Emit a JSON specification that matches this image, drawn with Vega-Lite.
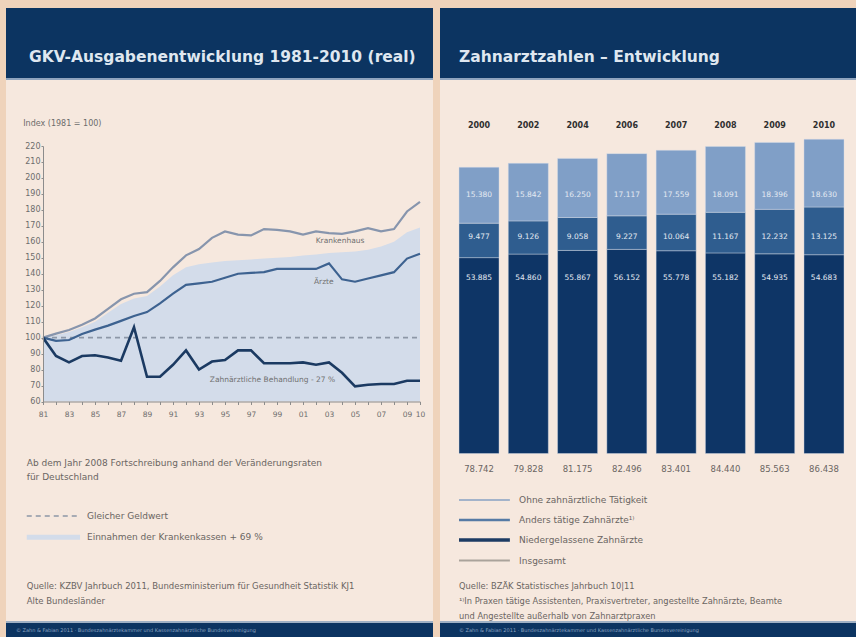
{
  "$schema": "https://vega.github.io/schema/vega-lite/v6.json",
  "background": "#efd3bb",
  "padding": {"left": 6, "top": 8, "right": 0, "bottom": 0},
  "spacing": 7,
  "config": {
    "font": "DejaVu Sans",
    "view": {"stroke": null},
    "axis": {"labelOverlap": false, "labelFlush": false},
    "locale": {"number": {"decimal": ",", "thousands": ".", "grouping": [3], "currency": ["", " €"]}}
  },
  "hconcat": [
    {
      "spacing": 0,
      "vconcat": [
        {
          "width": 427, "height": 70,
          "view": {"fill": "#0c3461", "stroke": null},
          "data": {"values": [{"t": "GKV-Ausgabenentwicklung 1981-2010 (real)"}]},
          "mark": {"type": "text", "align": "left", "baseline": "middle", "dx": -190.5, "dy": 14, "fontSize": 15.5, "fontWeight": "bold", "color": "#dfe7f0"},
          "encoding": {"text": {"field": "t"}}
        },
        {
          "width": 427, "height": 2,
          "view": {"fill": "#8fa4be", "stroke": null},
          "data": {"values": []},
          "mark": {"type": "text"},
          "encoding": {"text": {"field": "t"}}
        },
        {
          "width": 427, "height": 541,
          "view": {"fill": "#f6e8de", "stroke": null},
          "data": {"values": [
            {"jahr":1981,"reihe":"Krankenhaus","index":100},{"jahr":1982,"reihe":"Krankenhaus","index":102.5},{"jahr":1983,"reihe":"Krankenhaus","index":104.8},{"jahr":1984,"reihe":"Krankenhaus","index":108},{"jahr":1985,"reihe":"Krankenhaus","index":112},{"jahr":1986,"reihe":"Krankenhaus","index":118},{"jahr":1987,"reihe":"Krankenhaus","index":124},{"jahr":1988,"reihe":"Krankenhaus","index":127.5},{"jahr":1989,"reihe":"Krankenhaus","index":128.5},{"jahr":1990,"reihe":"Krankenhaus","index":135.5},{"jahr":1991,"reihe":"Krankenhaus","index":144},{"jahr":1992,"reihe":"Krankenhaus","index":151.5},{"jahr":1993,"reihe":"Krankenhaus","index":155.5},{"jahr":1994,"reihe":"Krankenhaus","index":162.5},{"jahr":1995,"reihe":"Krankenhaus","index":166.5},{"jahr":1996,"reihe":"Krankenhaus","index":164.5},{"jahr":1997,"reihe":"Krankenhaus","index":164},{"jahr":1998,"reihe":"Krankenhaus","index":168},{"jahr":1999,"reihe":"Krankenhaus","index":167.5},{"jahr":2000,"reihe":"Krankenhaus","index":166.5},{"jahr":2001,"reihe":"Krankenhaus","index":164.5},{"jahr":2002,"reihe":"Krankenhaus","index":166.5},{"jahr":2003,"reihe":"Krankenhaus","index":165.5},{"jahr":2004,"reihe":"Krankenhaus","index":165},{"jahr":2005,"reihe":"Krankenhaus","index":166.5},{"jahr":2006,"reihe":"Krankenhaus","index":168.5},{"jahr":2007,"reihe":"Krankenhaus","index":166.5},{"jahr":2008,"reihe":"Krankenhaus","index":168},{"jahr":2009,"reihe":"Krankenhaus","index":179},{"jahr":2010,"reihe":"Krankenhaus","index":185},
            {"jahr":1981,"reihe":"Ärzte","index":100},{"jahr":1982,"reihe":"Ärzte","index":98},{"jahr":1983,"reihe":"Ärzte","index":98.5},{"jahr":1984,"reihe":"Ärzte","index":102.3},{"jahr":1985,"reihe":"Ärzte","index":105},{"jahr":1986,"reihe":"Ärzte","index":107.5},{"jahr":1987,"reihe":"Ärzte","index":110.5},{"jahr":1988,"reihe":"Ärzte","index":113.5},{"jahr":1989,"reihe":"Ärzte","index":116},{"jahr":1990,"reihe":"Ärzte","index":121.5},{"jahr":1991,"reihe":"Ärzte","index":127.5},{"jahr":1992,"reihe":"Ärzte","index":133},{"jahr":1993,"reihe":"Ärzte","index":134},{"jahr":1994,"reihe":"Ärzte","index":135},{"jahr":1995,"reihe":"Ärzte","index":137.5},{"jahr":1996,"reihe":"Ärzte","index":140},{"jahr":1997,"reihe":"Ärzte","index":140.5},{"jahr":1998,"reihe":"Ärzte","index":141},{"jahr":1999,"reihe":"Ärzte","index":143},{"jahr":2000,"reihe":"Ärzte","index":143},{"jahr":2001,"reihe":"Ärzte","index":143},{"jahr":2002,"reihe":"Ärzte","index":143},{"jahr":2003,"reihe":"Ärzte","index":146.5},{"jahr":2004,"reihe":"Ärzte","index":136.5},{"jahr":2005,"reihe":"Ärzte","index":135},{"jahr":2006,"reihe":"Ärzte","index":137},{"jahr":2007,"reihe":"Ärzte","index":139},{"jahr":2008,"reihe":"Ärzte","index":141},{"jahr":2009,"reihe":"Ärzte","index":149.5},{"jahr":2010,"reihe":"Ärzte","index":152.5},
            {"jahr":1981,"reihe":"Zahnärztliche Behandlung","index":100},{"jahr":1982,"reihe":"Zahnärztliche Behandlung","index":88.5},{"jahr":1983,"reihe":"Zahnärztliche Behandlung","index":84.5},{"jahr":1984,"reihe":"Zahnärztliche Behandlung","index":88.5},{"jahr":1985,"reihe":"Zahnärztliche Behandlung","index":89},{"jahr":1986,"reihe":"Zahnärztliche Behandlung","index":87.5},{"jahr":1987,"reihe":"Zahnärztliche Behandlung","index":85.5},{"jahr":1988,"reihe":"Zahnärztliche Behandlung","index":106.5},{"jahr":1989,"reihe":"Zahnärztliche Behandlung","index":75.5},{"jahr":1990,"reihe":"Zahnärztliche Behandlung","index":75.5},{"jahr":1991,"reihe":"Zahnärztliche Behandlung","index":83},{"jahr":1992,"reihe":"Zahnärztliche Behandlung","index":92},{"jahr":1993,"reihe":"Zahnärztliche Behandlung","index":80},{"jahr":1994,"reihe":"Zahnärztliche Behandlung","index":85},{"jahr":1995,"reihe":"Zahnärztliche Behandlung","index":86},{"jahr":1996,"reihe":"Zahnärztliche Behandlung","index":92},{"jahr":1997,"reihe":"Zahnärztliche Behandlung","index":92},{"jahr":1998,"reihe":"Zahnärztliche Behandlung","index":84},{"jahr":1999,"reihe":"Zahnärztliche Behandlung","index":84},{"jahr":2000,"reihe":"Zahnärztliche Behandlung","index":84},{"jahr":2001,"reihe":"Zahnärztliche Behandlung","index":84.5},{"jahr":2002,"reihe":"Zahnärztliche Behandlung","index":83},{"jahr":2003,"reihe":"Zahnärztliche Behandlung","index":84.5},{"jahr":2004,"reihe":"Zahnärztliche Behandlung","index":78},{"jahr":2005,"reihe":"Zahnärztliche Behandlung","index":69.5},{"jahr":2006,"reihe":"Zahnärztliche Behandlung","index":70.5},{"jahr":2007,"reihe":"Zahnärztliche Behandlung","index":71},{"jahr":2008,"reihe":"Zahnärztliche Behandlung","index":71},{"jahr":2009,"reihe":"Zahnärztliche Behandlung","index":73},{"jahr":2010,"reihe":"Zahnärztliche Behandlung","index":73},
            {"jahr":1981,"reihe":"Einnahmen","index":100},{"jahr":1982,"reihe":"Einnahmen","index":101.5},{"jahr":1983,"reihe":"Einnahmen","index":103.5},{"jahr":1984,"reihe":"Einnahmen","index":106.5},{"jahr":1985,"reihe":"Einnahmen","index":110},{"jahr":1986,"reihe":"Einnahmen","index":115.5},{"jahr":1987,"reihe":"Einnahmen","index":121},{"jahr":1988,"reihe":"Einnahmen","index":124.5},{"jahr":1989,"reihe":"Einnahmen","index":126},{"jahr":1990,"reihe":"Einnahmen","index":132},{"jahr":1991,"reihe":"Einnahmen","index":139},{"jahr":1992,"reihe":"Einnahmen","index":144},{"jahr":1993,"reihe":"Einnahmen","index":146},{"jahr":1994,"reihe":"Einnahmen","index":147},{"jahr":1995,"reihe":"Einnahmen","index":148},{"jahr":1996,"reihe":"Einnahmen","index":148.5},{"jahr":1997,"reihe":"Einnahmen","index":149},{"jahr":1998,"reihe":"Einnahmen","index":149.5},{"jahr":1999,"reihe":"Einnahmen","index":150},{"jahr":2000,"reihe":"Einnahmen","index":150.5},{"jahr":2001,"reihe":"Einnahmen","index":151.5},{"jahr":2002,"reihe":"Einnahmen","index":152},{"jahr":2003,"reihe":"Einnahmen","index":153},{"jahr":2004,"reihe":"Einnahmen","index":153.5},{"jahr":2005,"reihe":"Einnahmen","index":154},{"jahr":2006,"reihe":"Einnahmen","index":155},{"jahr":2007,"reihe":"Einnahmen","index":157},{"jahr":2008,"reihe":"Einnahmen","index":160},{"jahr":2009,"reihe":"Einnahmen","index":166},{"jahr":2010,"reihe":"Einnahmen","index":169}
          ]},
          "layer": [
            {
              "transform": [{"filter": "datum.reihe == 'Einnahmen'"}],
              "mark": {"type": "area", "color": "#d3dcea"},
              "encoding": {
                "x": {"field": "jahr", "type": "quantitative",
                  "scale": {"domain": [1981, 2010], "range": [37, 414], "nice": false, "zero": false},
                  "axis": {"orient": "bottom", "offset": -219.5, "tickCount": 60, "values": [1981,1982,1983,1984,1985,1986,1987,1988,1989,1990,1991,1992,1993,1994,1995,1996,1997,1998,1999,2000,2001,2002,2003,2004,2005,2006,2007,2008,2009,2010],
                    "labelExpr": "indexof([1981,1983,1985,1987,1989,1991,1993,1995,1997,1999,2001,2003,2005,2007,2009,2010], datum.value) >= 0 ? substring(toString(datum.value), 2, 4) : ''",
                    "title": null, "grid": false, "domainColor": "#8c8c8c", "tickColor": "#8c8c8c", "tickSize": 3, "labelFontSize": 7.5, "labelColor": "#6c6c6c", "labelPadding": 6, "labelOverlap": false, "labelFlush": false, "zindex": 1}},
                "y": {"field": "index", "type": "quantitative",
                  "scale": {"domain": [60, 220], "range": [321.5, 66], "nice": false, "zero": false},
                  "axis": {"orient": "left", "offset": -37, "tickCount": 40, "values": [60,70,80,90,100,110,120,130,140,150,160,170,180,190,200,210,220], "title": null, "grid": false, "domainColor": "#8c8c8c", "tickColor": "#8c8c8c", "tickSize": 2, "labelFontSize": 8, "labelColor": "#6c6c6c", "labelPadding": 1, "labelOverlap": false, "zindex": 1}},
                "y2": {"datum": 60}
              }
            },
            {
              "data": {"values": [{"t": "Gleicher Geldwert"}]},
              "mark": {"type": "rule", "color": "#8d97a7", "strokeWidth": 1.6, "strokeDash": [5, 4]},
              "encoding": {
                "x": {"datum": 1981, "type": "quantitative"},
                "x2": {"datum": 2010},
                "y": {"datum": 100, "type": "quantitative"}
              }
            },
            {
              "transform": [{"filter": "datum.reihe == 'Krankenhaus'"}],
              "mark": {"type": "line", "color": "#8795ad", "strokeWidth": 2.2},
              "encoding": {"x": {"field": "jahr", "type": "quantitative"}, "y": {"field": "index", "type": "quantitative"}}
            },
            {
              "transform": [{"filter": "datum.reihe == 'Ärzte'"}],
              "mark": {"type": "line", "color": "#3d6290", "strokeWidth": 2.2},
              "encoding": {"x": {"field": "jahr", "type": "quantitative"}, "y": {"field": "index", "type": "quantitative"}}
            },
            {
              "transform": [{"filter": "datum.reihe == 'Zahnärztliche Behandlung'"}],
              "mark": {"type": "line", "color": "#1b3a62", "strokeWidth": 2.6},
              "encoding": {"x": {"field": "jahr", "type": "quantitative"}, "y": {"field": "index", "type": "quantitative"}}
            },
            {
              "data": {"values": [{"t": "Krankenhaus"}]},
              "mark": {"type": "text", "fontSize": 7.5, "color": "#707070"},
              "encoding": {"x": {"datum": 2003.85, "type": "quantitative"}, "y": {"datum": 160.5, "type": "quantitative"}, "text": {"field": "t"}}
            },
            {
              "data": {"values": [{"t": "Ärzte"}]},
              "mark": {"type": "text", "fontSize": 7.5, "color": "#707070"},
              "encoding": {"x": {"datum": 2002.6, "type": "quantitative"}, "y": {"datum": 135, "type": "quantitative"}, "text": {"field": "t"}}
            },
            {
              "data": {"values": [{"t": "Zahnärztliche Behandlung - 27 %"}]},
              "mark": {"type": "text", "fontSize": 7.5, "color": "#707070"},
              "encoding": {"x": {"datum": 1998.65, "type": "quantitative"}, "y": {"datum": 73.5, "type": "quantitative"}, "text": {"field": "t"}}
            },
            {
              "data": {"values": [{"t": "Index (1981 = 100)"}]},
              "mark": {"type": "text", "fontSize": 8, "color": "#6c6c6c", "align": "left"},
              "encoding": {"x": {"datum": 1979.48, "type": "quantitative"}, "y": {"datum": 233.8, "type": "quantitative"}, "text": {"field": "t"}}
            },
            {
              "data": {"values": [{"t": ["Ab dem Jahr 2008 Fortschreibung anhand der Veränderungsraten", "für Deutschland"]}]},
              "mark": {"type": "text", "fontSize": 9, "color": "#6a6562", "align": "left", "baseline": "top", "lineHeight": 14.5},
              "encoding": {"x": {"datum": 1979.75, "type": "quantitative"}, "y": {"datum": 24, "type": "quantitative"}, "text": {"field": "t"}}
            },
            {
              "data": {"values": [{"t": "Gleicher Geldwert"}]},
              "mark": {"type": "rule", "color": "#8d97a7", "strokeWidth": 1.6, "strokeDash": [5, 4]},
              "encoding": {"x": {"datum": 1979.75, "type": "quantitative"}, "x2": {"datum": 1983.85}, "y": {"datum": -11.7, "type": "quantitative"}}
            },
            {
              "data": {"values": [{"t": "Gleicher Geldwert"}]},
              "mark": {"type": "text", "fontSize": 9, "color": "#6a6562", "align": "left"},
              "encoding": {"x": {"datum": 1984.38, "type": "quantitative"}, "y": {"datum": -11.7, "type": "quantitative"}, "text": {"field": "t"}}
            },
            {
              "data": {"values": [{"t": "Einnahmen der Krankenkassen + 69 %"}]},
              "mark": {"type": "rect", "color": "#d3dcea"},
              "encoding": {"x": {"datum": 1979.75, "type": "quantitative"}, "x2": {"datum": 1983.85}, "y": {"datum": -23.5, "type": "quantitative"}, "y2": {"datum": -26.6}}
            },
            {
              "data": {"values": [{"t": "Einnahmen der Krankenkassen + 69 %"}]},
              "mark": {"type": "text", "fontSize": 9, "color": "#6a6562", "align": "left"},
              "encoding": {"x": {"datum": 1984.38, "type": "quantitative"}, "y": {"datum": -25, "type": "quantitative"}, "text": {"field": "t"}}
            },
            {
              "data": {"values": [{"t": ["Quelle: KZBV Jahrbuch 2011, Bundesministerium für Gesundheit Statistik KJ1", "Alte Bundesländer"]}]},
              "mark": {"type": "text", "fontSize": 8.5, "color": "#6a6562", "align": "left", "baseline": "top", "lineHeight": 15.5},
              "encoding": {"x": {"datum": 1979.75, "type": "quantitative"}, "y": {"datum": -53, "type": "quantitative"}, "text": {"field": "t"}}
            }
          ]
        },
        {
          "width": 427, "height": 2,
          "view": {"fill": "#9fb0c4", "stroke": null},
          "data": {"values": []},
          "mark": {"type": "text"},
          "encoding": {"text": {"field": "t"}}
        },
        {
          "width": 427, "height": 14,
          "view": {"fill": "#0c3461", "stroke": null},
          "data": {"values": [{"t": "© Zahn & Fabian 2011 · Bundeszahnärztekammer und Kassenzahnärztliche Bundesvereinigung"}]},
          "mark": {"type": "text", "align": "left", "baseline": "middle", "dx": -203.5, "dy": 0, "fontSize": 5, "color": "#8aa2c0"},
          "encoding": {"text": {"field": "t"}}
        }
      ]
    },
    {
      "spacing": 0,
      "vconcat": [
        {
          "width": 416, "height": 70,
          "view": {"fill": "#0c3461", "stroke": null},
          "data": {"values": [{"t": "Zahnarztzahlen – Entwicklung"}]},
          "mark": {"type": "text", "align": "left", "baseline": "middle", "dx": -189, "dy": 14, "fontSize": 15.5, "fontWeight": "bold", "color": "#dfe7f0"},
          "encoding": {"text": {"field": "t"}}
        },
        {
          "width": 416, "height": 2,
          "view": {"fill": "#8fa4be", "stroke": null},
          "data": {"values": []},
          "mark": {"type": "text"},
          "encoding": {"text": {"field": "t"}}
        },
        {
          "width": 416, "height": 541,
          "view": {"fill": "#f6e8de", "stroke": null},
          "data": {"values": [
            {"jahr":"2000","kat":"Niedergelassene Zahnärzte","rang":1,"anzahl":53885},{"jahr":"2000","kat":"Anders tätige Zahnärzte","rang":2,"anzahl":9477},{"jahr":"2000","kat":"Ohne zahnärztliche Tätigkeit","rang":3,"anzahl":15380},{"jahr":"2000","kat":"Insgesamt","rang":4,"anzahl":78742},
            {"jahr":"2002","kat":"Niedergelassene Zahnärzte","rang":1,"anzahl":54860},{"jahr":"2002","kat":"Anders tätige Zahnärzte","rang":2,"anzahl":9126},{"jahr":"2002","kat":"Ohne zahnärztliche Tätigkeit","rang":3,"anzahl":15842},{"jahr":"2002","kat":"Insgesamt","rang":4,"anzahl":79828},
            {"jahr":"2004","kat":"Niedergelassene Zahnärzte","rang":1,"anzahl":55867},{"jahr":"2004","kat":"Anders tätige Zahnärzte","rang":2,"anzahl":9058},{"jahr":"2004","kat":"Ohne zahnärztliche Tätigkeit","rang":3,"anzahl":16250},{"jahr":"2004","kat":"Insgesamt","rang":4,"anzahl":81175},
            {"jahr":"2006","kat":"Niedergelassene Zahnärzte","rang":1,"anzahl":56152},{"jahr":"2006","kat":"Anders tätige Zahnärzte","rang":2,"anzahl":9227},{"jahr":"2006","kat":"Ohne zahnärztliche Tätigkeit","rang":3,"anzahl":17117},{"jahr":"2006","kat":"Insgesamt","rang":4,"anzahl":82496},
            {"jahr":"2007","kat":"Niedergelassene Zahnärzte","rang":1,"anzahl":55778},{"jahr":"2007","kat":"Anders tätige Zahnärzte","rang":2,"anzahl":10064},{"jahr":"2007","kat":"Ohne zahnärztliche Tätigkeit","rang":3,"anzahl":17559},{"jahr":"2007","kat":"Insgesamt","rang":4,"anzahl":83401},
            {"jahr":"2008","kat":"Niedergelassene Zahnärzte","rang":1,"anzahl":55182},{"jahr":"2008","kat":"Anders tätige Zahnärzte","rang":2,"anzahl":11167},{"jahr":"2008","kat":"Ohne zahnärztliche Tätigkeit","rang":3,"anzahl":18091},{"jahr":"2008","kat":"Insgesamt","rang":4,"anzahl":84440},
            {"jahr":"2009","kat":"Niedergelassene Zahnärzte","rang":1,"anzahl":54935},{"jahr":"2009","kat":"Anders tätige Zahnärzte","rang":2,"anzahl":12232},{"jahr":"2009","kat":"Ohne zahnärztliche Tätigkeit","rang":3,"anzahl":18396},{"jahr":"2009","kat":"Insgesamt","rang":4,"anzahl":85563},
            {"jahr":"2010","kat":"Niedergelassene Zahnärzte","rang":1,"anzahl":54683},{"jahr":"2010","kat":"Anders tätige Zahnärzte","rang":2,"anzahl":13125},{"jahr":"2010","kat":"Ohne zahnärztliche Tätigkeit","rang":3,"anzahl":18630},{"jahr":"2010","kat":"Insgesamt","rang":4,"anzahl":86438}
          ]},
          "layer": [
            {
              "transform": [{"filter": "datum.kat != 'Insgesamt'"}],
              "mark": {"type": "bar", "stroke": "#d6dee9", "strokeWidth": 0.6, "strokeOpacity": 0.7},
              "encoding": {
                "x": {"field": "jahr", "type": "nominal", "scale": {"type": "band", "range": [19, 404], "paddingInner": 0.188, "paddingOuter": 0}, "axis": null},
                "y": {"field": "anzahl", "type": "quantitative", "stack": "zero", "scale": {"domain": [0, 86438], "range": [373.5, 59.3], "nice": false, "zero": false}, "axis": null},
                "color": {"field": "kat", "type": "nominal", "scale": {"domain": ["Ohne zahnärztliche Tätigkeit", "Anders tätige Zahnärzte", "Niedergelassene Zahnärzte"], "range": ["#809fc7", "#2f5d8f", "#0e3566"]}, "legend": null},
                "order": {"field": "rang", "type": "quantitative"}
              }
            },
            {
              "transform": [{"filter": "datum.kat == 'Insgesamt'"}],
              "mark": {"type": "text", "fontSize": 8, "fontWeight": "bold", "color": "#2f2f2f"},
              "encoding": {"x": {"field": "jahr", "type": "nominal", "axis": null}, "y": {"datum": 90233, "type": "quantitative", "axis": null}, "text": {"field": "jahr"}}
            },
            {
              "transform": [{"filter": "datum.kat == 'Ohne zahnärztliche Tätigkeit'"}],
              "mark": {"type": "text", "fontSize": 7.5, "color": "#e4eaf2"},
              "encoding": {"x": {"field": "jahr", "type": "nominal", "axis": null}, "y": {"datum": 71114, "type": "quantitative", "axis": null}, "text": {"field": "anzahl", "type": "quantitative", "format": ",d"}}
            },
            {
              "transform": [{"filter": "datum.kat == 'Anders tätige Zahnärzte'"}],
              "mark": {"type": "text", "fontSize": 7.5, "color": "#e4eaf2"},
              "encoding": {"x": {"field": "jahr", "type": "nominal", "axis": null}, "y": {"datum": 59642, "type": "quantitative", "axis": null}, "text": {"field": "anzahl", "type": "quantitative", "format": ",d"}}
            },
            {
              "transform": [{"filter": "datum.kat == 'Niedergelassene Zahnärzte'"}],
              "mark": {"type": "text", "fontSize": 7.5, "color": "#e4eaf2"},
              "encoding": {"x": {"field": "jahr", "type": "nominal", "axis": null}, "y": {"datum": 48197, "type": "quantitative", "axis": null}, "text": {"field": "anzahl", "type": "quantitative", "format": ",d"}}
            },
            {
              "transform": [{"filter": "datum.kat == 'Insgesamt'"}],
              "mark": {"type": "text", "fontSize": 8.5, "color": "#6a6562"},
              "encoding": {"x": {"field": "jahr", "type": "nominal", "axis": null}, "y": {"datum": -4264, "type": "quantitative", "axis": null}, "text": {"field": "anzahl", "type": "quantitative", "format": ",d"}}
            },
            {
              "data": {"values": [{"t": "Ohne zahnärztliche Tätigkeit"}]},
              "encoding": {"y": {"datum": -12794, "type": "quantitative", "axis": null}},
              "layer": [
                {"mark": {"type": "rule", "color": "#a3b3ca", "strokeWidth": 2}, "encoding": {"x": {"datum": "2000", "bandPosition": 0, "axis": null}, "x2": {"datum": "2002", "bandPosition": 0.04}}},
                {"mark": {"type": "text", "align": "left", "fontSize": 9, "color": "#6a6562"}, "encoding": {"x": {"datum": "2002", "bandPosition": 0.27, "axis": null}, "text": {"field": "t"}}}
              ]
            },
            {
              "data": {"values": [{"t": "Anders tätige Zahnärzte¹⁾"}]},
              "encoding": {"y": {"datum": -18296, "type": "quantitative", "axis": null}},
              "layer": [
                {"mark": {"type": "rule", "color": "#557aa5", "strokeWidth": 2.5}, "encoding": {"x": {"datum": "2000", "bandPosition": 0, "axis": null}, "x2": {"datum": "2002", "bandPosition": 0.04}}},
                {"mark": {"type": "text", "align": "left", "fontSize": 9, "color": "#6a6562"}, "encoding": {"x": {"datum": "2002", "bandPosition": 0.27, "axis": null}, "text": {"field": "t"}}}
              ]
            },
            {
              "data": {"values": [{"t": "Niedergelassene Zahnärzte"}]},
              "encoding": {"y": {"datum": -23797, "type": "quantitative", "axis": null}},
              "layer": [
                {"mark": {"type": "rule", "color": "#1c3b63", "strokeWidth": 3.5}, "encoding": {"x": {"datum": "2000", "bandPosition": 0, "axis": null}, "x2": {"datum": "2002", "bandPosition": 0.04}}},
                {"mark": {"type": "text", "align": "left", "fontSize": 9, "color": "#6a6562"}, "encoding": {"x": {"datum": "2002", "bandPosition": 0.27, "axis": null}, "text": {"field": "t"}}}
              ]
            },
            {
              "data": {"values": [{"t": "Insgesamt"}]},
              "encoding": {"y": {"datum": -29437, "type": "quantitative", "axis": null}},
              "layer": [
                {"mark": {"type": "rule", "color": "#aaa39b", "strokeWidth": 2}, "encoding": {"x": {"datum": "2000", "bandPosition": 0, "axis": null}, "x2": {"datum": "2002", "bandPosition": 0.04}}},
                {"mark": {"type": "text", "align": "left", "fontSize": 9, "color": "#6a6562"}, "encoding": {"x": {"datum": "2002", "bandPosition": 0.27, "axis": null}, "text": {"field": "t"}}}
              ]
            },
            {
              "data": {"values": [{"t": ["Quelle: BZÄK Statistisches Jahrbuch 10|11", "¹⁾In Praxen tätige Assistenten, Praxisvertreter, angestellte Zahnärzte, Beamte", "und Angestellte außerhalb von Zahnarztpraxen"]}]},
              "mark": {"type": "text", "fontSize": 8.3, "color": "#6a6562", "align": "left", "baseline": "top", "lineHeight": 15},
              "encoding": {"x": {"datum": "2000", "bandPosition": 0, "axis": null}, "y": {"datum": -35488, "type": "quantitative", "axis": null}, "text": {"field": "t"}}
            }
          ]
        },
        {
          "width": 416, "height": 2,
          "view": {"fill": "#9fb0c4", "stroke": null},
          "data": {"values": []},
          "mark": {"type": "text"},
          "encoding": {"text": {"field": "t"}}
        },
        {
          "width": 416, "height": 14,
          "view": {"fill": "#0c3461", "stroke": null},
          "data": {"values": [{"t": "© Zahn & Fabian 2011 · Bundeszahnärztekammer und Kassenzahnärztliche Bundesvereinigung"}]},
          "mark": {"type": "text", "align": "left", "baseline": "middle", "dx": -189, "dy": 0, "fontSize": 5, "color": "#8aa2c0"},
          "encoding": {"text": {"field": "t"}}
        }
      ]
    }
  ]
}
